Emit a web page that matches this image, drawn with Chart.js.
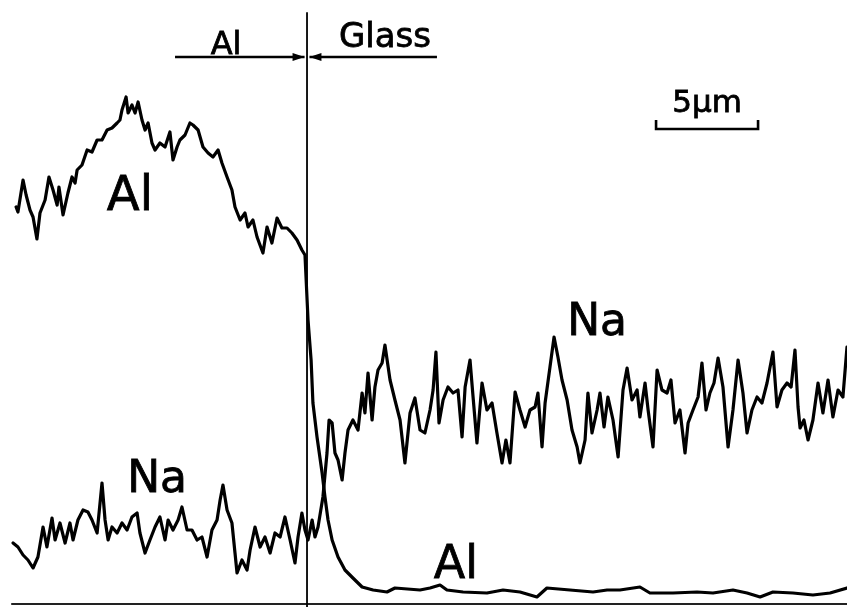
<!DOCTYPE html>
<html>
<head>
<meta charset="utf-8">
<script src="https://cdn.jsdelivr.net/npm/chart.js@4.4.1/dist/chart.umd.min.js"></script>
<style>
html,body{margin:0;padding:0;background:#fff;}
#wrap{width:847px;height:607px;position:relative;}
</style>
</head>
<body>
<div id="wrap"><canvas id="c"></canvas></div>
<script>
// Position along the line scan (µm, interface Al|Glass at 0)
const alX = [-14.26,-14.17,-13.92,-13.77,-13.58,-13.43,-13.24,-13.09,-12.84,-12.65,-12.45,-12.25,-12.16,-11.96,-11.72,-11.52,-11.37,-11.27,-11.03,-10.78,-10.54,-10.29,-10.05,-9.80,-9.56,-9.31,-9.17,-9.07,-8.87,-8.77,-8.58,-8.43,-8.28,-8.09,-7.94,-7.79,-7.60,-7.45,-7.21,-6.96,-6.72,-6.57,-6.37,-6.23,-5.98,-5.74,-5.59,-5.34,-5.10,-4.85,-4.61,-4.36,-4.17,-3.92,-3.68,-3.53,-3.28,-3.04,-2.89,-2.65,-2.45,-2.16,-1.96,-1.72,-1.47,-1.23,-0.98,-0.74,-0.49,-0.25,-0.10,0.05,0.20,0.29,0.49,0.74,0.88,1.03,1.23,1.52,1.86,2.25,2.70,3.24,3.92,4.31,5.54,6.03,6.52,6.86,7.65,8.82,9.61,10.44,11.27,11.76,12.89,14.02,14.71,15.34,16.32,16.81,17.94,19.12,19.90,20.88,21.57,22.21,22.84,23.82,24.80,25.64,26.47];
// Al X-ray intensity (arbitrary units)
const alCounts = [79.4,78.4,84.8,81.8,78.8,77.4,73.0,78.2,80.8,85.4,82.8,79.8,83.4,77.8,82.2,85.4,84.2,86.8,87.8,90.8,90.4,92.8,92.8,94.8,95.2,96.2,96.8,98.8,101.4,98.2,99.8,98.2,100.4,96.8,94.8,96.2,92.2,90.8,92.2,91.4,94.4,88.8,91.4,92.8,93.8,96.2,95.8,94.8,91.4,90.2,89.4,90.8,88.2,85.4,82.8,79.4,76.8,78.2,75.4,76.8,73.4,70.2,75.4,72.2,77.2,75.2,75.2,74.2,72.8,70.8,69.8,56.8,48.8,40.2,33.4,26.2,21.4,16.8,12.8,9.4,6.8,5.2,3.4,2.8,2.4,3.2,2.8,3.2,3.8,2.8,2.4,2.2,2.8,2.4,1.4,3.2,2.8,2.4,2.8,2.8,3.4,2.2,2.2,2.4,2.2,2.8,2.2,1.4,2.4,2.2,1.8,2.2,3.2];

const naX = [-14.41,-14.17,-13.92,-13.68,-13.43,-13.19,-12.94,-12.75,-12.50,-12.35,-12.11,-11.86,-11.62,-11.47,-11.23,-10.98,-10.74,-10.54,-10.29,-10.05,-9.90,-9.75,-9.56,-9.31,-9.07,-8.82,-8.58,-8.33,-8.19,-7.94,-7.70,-7.45,-7.21,-6.96,-6.81,-6.57,-6.32,-6.13,-5.88,-5.64,-5.39,-5.15,-4.90,-4.66,-4.41,-4.26,-4.12,-3.92,-3.68,-3.53,-3.43,-3.19,-2.94,-2.79,-2.55,-2.30,-2.06,-1.81,-1.57,-1.32,-1.08,-0.83,-0.59,-0.44,-0.25,-0.10,0.05,0.25,0.39,0.54,0.78,0.98,1.08,1.23,1.37,1.52,1.72,1.86,2.01,2.25,2.50,2.70,2.84,2.99,3.19,3.33,3.48,3.68,3.82,4.07,4.31,4.56,4.80,5.05,5.29,5.54,5.78,6.03,6.18,6.32,6.47,6.67,6.91,7.16,7.40,7.60,7.75,7.99,8.14,8.33,8.58,8.82,9.07,9.31,9.56,9.75,9.95,10.20,10.44,10.69,10.93,11.18,11.32,11.52,11.67,11.91,12.11,12.30,12.50,12.75,12.99,13.24,13.38,13.63,13.77,13.97,14.22,14.36,14.56,14.75,15.00,15.25,15.49,15.69,15.93,16.18,16.32,16.57,16.72,16.96,17.16,17.40,17.65,17.84,18.04,18.28,18.53,18.68,18.92,19.17,19.36,19.56,19.75,19.95,20.15,20.39,20.64,20.88,21.13,21.37,21.57,21.81,22.06,22.30,22.55,22.84,23.04,23.28,23.53,23.73,23.92,24.07,24.17,24.36,24.56,24.80,25.05,25.29,25.54,25.78,26.03,26.27,26.47];
// Na X-ray intensity (arbitrary units)
const naCounts = [12.2,11.4,9.8,8.8,7.2,9.4,15.4,11.4,17.2,12.8,16.2,12.2,16.2,12.8,16.8,18.8,18.4,16.8,14.2,24.2,16.8,12.8,15.4,14.2,16.2,14.8,17.4,18.2,14.2,10.2,12.8,15.4,17.4,12.8,16.8,14.8,16.8,19.4,14.8,14.8,12.8,13.4,9.4,14.8,16.8,20.8,23.8,18.8,16.2,10.2,6.2,8.8,6.8,10.8,15.4,11.4,13.4,10.2,14.2,13.4,17.4,12.8,8.2,13.4,18.2,14.8,12.8,16.8,13.4,15.4,21.4,30.2,36.8,36.2,30.2,28.8,24.8,30.2,34.8,36.8,34.8,42.2,38.2,46.2,36.8,43.4,46.8,48.2,51.8,44.8,40.8,36.8,28.2,38.2,41.2,34.8,34.2,38.8,42.8,50.4,36.2,40.8,43.4,42.2,42.8,33.4,43.4,48.8,41.4,32.2,44.2,38.8,40.2,34.2,28.2,32.8,28.2,42.4,38.8,35.4,38.8,39.4,42.2,31.4,40.2,47.4,53.4,49.4,44.8,40.8,34.8,31.4,28.2,32.8,42.2,34.2,38.8,42.2,35.4,41.4,36.8,29.4,42.8,47.2,40.8,42.8,37.4,44.2,38.8,31.4,46.8,42.8,42.2,44.8,36.2,38.8,30.2,36.2,38.8,41.4,48.2,38.8,42.2,44.2,49.2,43.4,31.4,38.8,48.8,42.2,34.2,38.8,41.4,40.2,44.2,50.4,39.4,42.8,44.2,43.4,50.8,39.4,35.2,36.8,32.8,36.8,44.2,38.2,44.8,37.4,42.8,41.4,51.4];

const interfaceX = 0;        // Al | Glass boundary (µm)
const scaleBarUm = 5;        // scale bar length (µm)

const X_MIN = -15.05, X_MAX = 26.47, Y_MIN = -0.6, Y_MAX = 120.8;
const INK = '#000';

const toPts = (xs, ys) => xs.map((x, i) => ({x: x, y: ys[i]}));

const labels = [
  {t: 'Al',    x: -8.68, y: 78.8, size: 48},
  {t: 'Na',    x: -7.35, y: 22.4, size: 44},
  {t: 'Na',    x: 14.22, y: 53.8, size: 44},
  {t: 'Al',    x: 7.30,  y: 5.2,  size: 46},
  {t: 'Al',    x: -3.97, y: 110.0, size: 32},
  {t: 'Glass', x: 3.82,  y: 111.4, size: 34},
  {t: '5µm',   x: 19.61, y: 98.4, size: 31}
];

const decor = {
  id: 'decor',
  afterDatasetsDraw(chart) {
    const {ctx, scales: {x, y}} = chart;
    ctx.save();
    ctx.strokeStyle = INK; ctx.fillStyle = INK;
    ctx.lineCap = 'butt';
    const ay = y.getPixelForValue(109.4);
    const arrow = (x0, x1) => {
      const p0 = x.getPixelForValue(x0), p1 = x.getPixelForValue(x1);
      ctx.lineWidth = 2.4;
      ctx.beginPath(); ctx.moveTo(p0, ay); ctx.lineTo(p1, ay); ctx.stroke();
      const d = Math.sign(p1 - p0);
      ctx.beginPath();
      ctx.moveTo(p1, ay); ctx.lineTo(p1 - d * 12, ay - 4); ctx.lineTo(p1 - d * 12, ay + 4); ctx.closePath(); ctx.fill();
    };
    arrow(-6.47, interfaceX - 0.12);
    arrow(6.37, interfaceX + 0.12);
    const sx0 = x.getPixelForValue(17.11), sx1 = x.getPixelForValue(17.11 + scaleBarUm);
    const sy = y.getPixelForValue(95), st = y.getPixelForValue(96.8);
    ctx.lineWidth = 2.6;
    ctx.beginPath();
    ctx.moveTo(sx0, st); ctx.lineTo(sx0, sy); ctx.lineTo(sx1, sy); ctx.lineTo(sx1, st);
    ctx.stroke();
    ctx.textAlign = 'center'; ctx.textBaseline = 'alphabetic';
    labels.forEach(l => {
      ctx.font = l.size + 'px "DejaVu Sans"';
      const px = x.getPixelForValue(l.x), py = y.getPixelForValue(l.y);
      ctx.fillText(l.t, px, py);
      ctx.lineWidth = 0.8;
      ctx.strokeText(l.t, px, py);
    });
    ctx.restore();
  }
};

new Chart(document.getElementById('c'), {
  type: 'scatter',
  data: {
    datasets: [
      {label: 'Al', data: toPts(alX, alCounts), showLine: true, borderColor: INK, borderWidth: 3.2, pointRadius: 0, tension: 0, borderJoinStyle: 'round'},
      {label: 'Na', data: toPts(naX, naCounts), showLine: true, borderColor: INK, borderWidth: 3.2, pointRadius: 0, tension: 0, borderJoinStyle: 'round'},
      {label: 'interface', data: [{x: interfaceX, y: 118.2}, {x: interfaceX, y: Y_MIN}], showLine: true, borderColor: INK, borderWidth: 1.8, pointRadius: 0},
      {label: 'baseline', data: [{x: -14.46, y: 0}, {x: X_MAX, y: 0}], showLine: true, borderColor: '#222', borderWidth: 2.2, pointRadius: 0}
    ]
  },
  options: {
    responsive: true,
    maintainAspectRatio: false,
    animation: false,
    layout: {padding: 0},
    plugins: {legend: {display: false}, tooltip: {enabled: false}},
    scales: {
      x: {type: 'linear', min: X_MIN, max: X_MAX, display: false},
      y: {type: 'linear', min: Y_MIN, max: Y_MAX, display: false}
    },
    elements: {line: {borderCapStyle: 'round'}}
  },
  plugins: [decor]
});
</script>
</body>
</html>
